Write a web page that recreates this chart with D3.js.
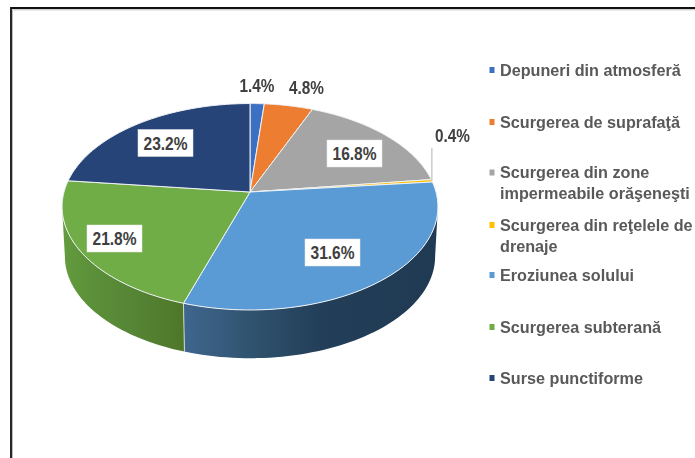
<!DOCTYPE html>
<html><head><meta charset="utf-8">
<script src="https://cdn.jsdelivr.net/npm/d3@7/dist/d3.min.js"></script>
<style>html,body{margin:0;padding:0;background:#fff;overflow:hidden}svg{display:block;filter:blur(0.55px)}text{font-family:"Liberation Sans",Arial,sans-serif;font-weight:700;fill:#404040}</style>
</head><body><svg id="c" width="695" height="458"></svg>
<script>
const categories=["Depuneri din atmosferă","Scurgerea de suprafaţă","Scurgerea din zone impermeabile orăşeneşti","Scurgerea din reţelele de drenaje","Eroziunea solului","Scurgerea subterană","Surse punctiforme"];
const values=[1.4,4.8,16.8,0.4,31.6,21.8,23.2];
const colors=["#3c70c4","#ed7d31","#a5a5a5","#ffc000","#5b9bd5","#70ad47","#264478"];
const legendLines=[["Depuneri din atmosferă"],["Scurgerea de suprafaţă"],["Scurgerea din zone","impermeabile orăşeneşti"],["Scurgerea din reţelele de","drenaje"],["Eroziunea solului"],["Scurgerea subterană"],["Surse punctiforme"]];
const legendY=[70,122,172.5,225,275,327,378];

const svg=d3.select("#c");
svg.append("path").attr("d","M12.5 458V9.8H695").attr("fill","none").attr("stroke","#bdbdbd").attr("stroke-width",1);
svg.append("path").attr("d","M11 458V8H695").attr("fill","none").attr("stroke","#111").attr("stroke-width",1.8);

// pie angles through d3, then a perspective projection of the disc
const pie=d3.pie().sort(null).value(d=>d)(values);
const cx=250,cy=192,a=186,b=101.1,k=0.143,depth=50,shrink=0.985;
const proj=t=>{const d=1+k*Math.cos(t);return [a*Math.sin(t)/d,-b*Math.cos(t)/d];};
const top_=t=>{const p=proj(t);return [cx+p[0],cy+p[1]];};
const low=t=>{const p=proj(t);return [cx+p[0]*shrink,cy+p[1]*shrink+depth];};
const rng=(s,e)=>d3.range(0,61).map(i=>s+(e-s)*i/60);
const line=d3.line();
const defs=svg.append("defs");
const grad=(id,stops)=>{const g=defs.append("linearGradient").attr("id",id).attr("gradientUnits","userSpaceOnUse").attr("x1",stops[0][0]).attr("x2",stops[stops.length-1][0]).attr("y1",0).attr("y2",0);
 const x0=stops[0][0],x1=stops[stops.length-1][0];stops.forEach(s=>g.append("stop").attr("offset",(s[0]-x0)/(x1-x0)).attr("stop-color",s[1]));};
grad("gG",[[62,"#649c3e"],[90,"#5c9039"],[130,"#568636"],[184,"#4f7629"]]);
grad("gB",[[184,"#3f668e"],[250,"#30536f"],[320,"#233e58"],[436,"#203a53"]]);

const ext=Math.acos(-k);
const walls=[{i:4,s:ext,e:pie[4].endAngle,f:"url(#gB)"},{i:5,s:pie[5].startAngle,e:2*Math.PI-ext,f:"url(#gG)"}];
svg.selectAll(".wall").data(walls).join("path").attr("class","wall")
 .attr("fill",d=>d.f).attr("d",d=>line(rng(d.s,d.e).map(top_).concat(rng(d.e,d.s).map(low)))+"Z");
// wall seam
const seam=pie[4].endAngle;
svg.append("line").attr("x1",top_(seam)[0]).attr("y1",top_(seam)[1]).attr("x2",low(seam)[0]).attr("y2",low(seam)[1]).attr("stroke","#d8e2d0").attr("stroke-width",0.9);

svg.selectAll(".slice").data(pie).join("path").attr("class","slice")
 .attr("fill",(d,i)=>colors[i]).attr("stroke","#eef2f5").attr("stroke-width",1).attr("stroke-linejoin","round")
 .attr("d",d=>line([[cx,cy]].concat(rng(d.startAngle,d.endAngle).map(top_)))+"Z");

// leader for the small slice
const mid3=(pie[3].startAngle+pie[3].endAngle)/2;
svg.append("line").attr("x1",top_(mid3)[0]).attr("x2",top_(mid3)[0]).attr("y1",top_(mid3)[1]).attr("y2",148).attr("stroke","#bfbfbf").attr("stroke-width",1.2);

// outside labels
const outside=[{v:values[0],x:257,y:91.5},{v:values[1],x:306.5,y:94},{v:values[3],x:452.5,y:142}];
svg.selectAll(".ol").data(outside).join("text").attr("class","ol").attr("text-anchor","middle").attr("font-size",18)
 .attr("textLength",35).attr("lengthAdjust","spacingAndGlyphs").attr("x",d=>d.x).attr("y",d=>d.y).text(d=>d3.format(".1f")(d.v)+"%");
// boxed labels
const boxed=[{v:values[2],x:354.5,y:153.5},{v:values[4],x:332.5,y:252.5},{v:values[5],x:114.5,y:238.5},{v:values[6],x:165.5,y:143}];
const bg=svg.selectAll(".bl").data(boxed).join("g").attr("class","bl").attr("transform",d=>`translate(${d.x},${d.y})`);
bg.append("rect").attr("x",-27.5).attr("y",-13.5).attr("width",55).attr("height",27).attr("fill","#fff").attr("stroke","#e6e6e6").attr("stroke-width",0.5);
bg.append("text").attr("text-anchor","middle").attr("y",6.5).attr("font-size",18).attr("textLength",44).attr("lengthAdjust","spacingAndGlyphs").text(d=>d3.format(".1f")(d.v)+"%");

// legend
const lg=svg.selectAll(".lg").data(legendLines).join("g").attr("class","lg").attr("transform",(d,i)=>`translate(0,${legendY[i]})`);
lg.append("rect").attr("x",489.5).attr("y",-3).attr("width",5).attr("height",6).attr("fill",(d,i)=>colors[i]);
lg.selectAll("text").data(d=>d).join("text").attr("x",500).attr("y",(d,j)=>5.5+j*21).attr("font-size",16.2).style("fill","#595959").text(d=>d);
</script></body></html>
